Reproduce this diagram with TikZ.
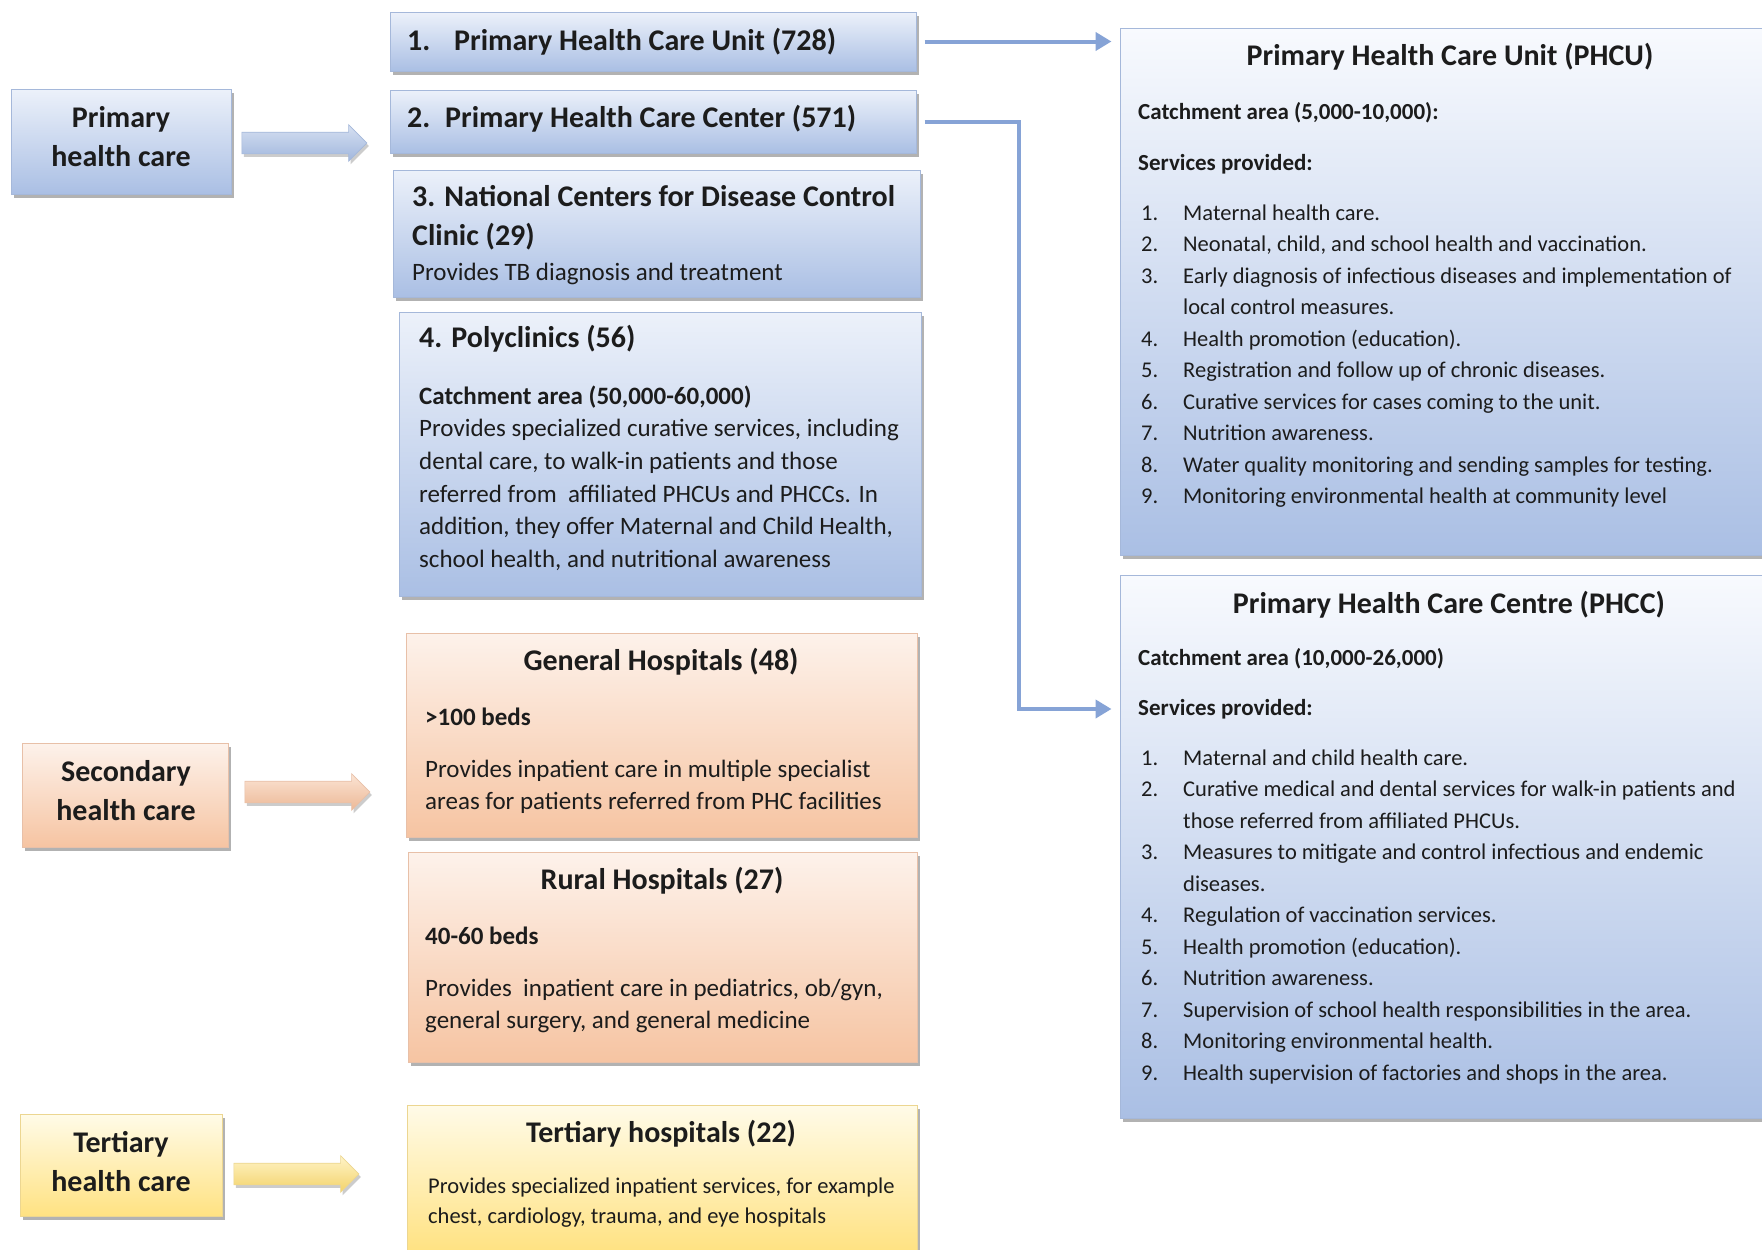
\documentclass[tikz,border=0pt]{standalone}
\usepackage{fontspec}
\setmainfont{Carlito}
\usetikzlibrary{shapes.arrows,shadows,arrows.meta}
\newcommand\myfs[2]{\fontsize{#1}{#2}\selectfont}
\definecolor{bluetop}{RGB}{236,241,250}
\definecolor{bluebot}{RGB}{170,191,228}
\definecolor{blueline}{RGB}{165,184,218}
\definecolor{orangetop}{RGB}{253,242,235}
\definecolor{orangebot}{RGB}{246,196,162}
\definecolor{orangeline}{RGB}{232,192,168}
\definecolor{yellowtop}{RGB}{255,251,232}
\definecolor{yellowbot}{RGB}{255,226,130}
\definecolor{yellowline}{RGB}{236,214,145}
\definecolor{connblue}{RGB}{134,163,214}
\definecolor{txt}{RGB}{28,28,28}
\begin{document}
\begin{tikzpicture}[x=1pt,y=-1pt,
  box/.style={rectangle, inner sep=0pt, line width=1pt,
    drop shadow={shadow xshift=3pt, shadow yshift=-4pt, fill=black, opacity=0.3}},
  bluebox/.style={box, draw=blueline, top color=bluetop, bottom color=bluebot},
  orangebox/.style={box, draw=orangeline, top color=orangetop, bottom color=orangebot},
  yellowbox/.style={box, draw=yellowline, top color=yellowtop, bottom color=yellowbot},
  lefttext/.style={font=\bfseries\myfs{30}{39}, text=txt, align=center, inner sep=0pt},
  head/.style={font=\bfseries\myfs{30}{39}, text=txt, inner sep=0pt, align=left},
  subhead/.style={font=\bfseries\myfs{25}{30}, text=txt, inner sep=0pt},
  body/.style={font=\myfs{25}{32.6}, text=txt, inner sep=0pt, align=left},
  rtitle/.style={font=\bfseries\myfs{30}{34}, text=txt, inner sep=0pt},
  rsub/.style={font=\bfseries\myfs{23}{28}, text=txt, inner sep=0pt},
  item/.style={font=\myfs{22.5}{28}, text=txt, inner sep=0pt},
  blockarrow/.style={single arrow, inner xsep=0pt, inner ysep=10.5pt, minimum height=125pt,
    minimum width=36pt, single arrow head extend=7.5pt, line width=0.6pt,
    drop shadow={shadow xshift=2pt, shadow yshift=-3pt, fill=black, opacity=0.2}},
  conn/.style={draw=connblue, line width=4pt, shorten <=8pt, shorten >=8pt,
    -{Triangle[length=16pt,width=18pt]}}
]
\useasboundingbox (0,0) rectangle (1762,1250);
\fill[white] (0,0) rectangle (1762,1250);

% left level boxes
\node[bluebox, minimum width=220pt, minimum height=105pt] (prim) at (121,141.5) {};
\node[lefttext] (primt) at (121,137) {Primary\\health care};
\node[orangebox, minimum width=206pt, minimum height=104pt] (sec) at (125,795) {};
\node[lefttext] (sect) at (126,791) {Secondary\\health care};
\node[yellowbox, minimum width=202pt, minimum height=102pt] (ter) at (121,1165) {};
\node[lefttext] (tert) at (121,1161.5) {Tertiary\\health care};

% block arrows
\node[blockarrow, draw=blueline, top color={rgb,255:red,214;green,224;blue,241}, bottom color={rgb,255:red,160;green,182;blue,221}] (pa) at (299,143) {};
\node[blockarrow, draw=orangeline, top color={rgb,255:red,251;green,228;blue,212}, bottom color={rgb,255:red,236;green,184;blue,150}] (sa) at (302,792) {};
\node[blockarrow, draw=yellowline, top color={rgb,255:red,255;green,244;blue,200}, bottom color={rgb,255:red,243;green,210;blue,105}] (ta) at (291,1174) {};

% primary boxes
\node[bluebox, minimum width=526pt, minimum height=59pt] (b1) at (653,41.5) {};
\node[head, anchor=west] (b1t) at (407,41.5) {\makebox[47pt][l]{1.}Primary Health Care Unit (728)};

\node[bluebox, minimum width=526pt, minimum height=63pt] (b2) at (653,121.5) {};
\node[head, anchor=west] (b2t) at (407,119) {\makebox[38pt][l]{2.}Primary Health Care Center (571)};

\node[bluebox, minimum width=527pt, minimum height=127pt] (b3) at (656.5,233.5) {};
\node[head, anchor=west] (b3t) at (412,217.5) {3. National Centers for Disease Control\\Clinic (29)};
\node[body, anchor=west] (b3b) at (412,274) {Provides TB diagnosis and treatment};

\node[bluebox, minimum width=522pt, minimum height=284pt] (b4) at (660,454) {};
\node[head, anchor=west] (b4t) at (419,339) {4. Polyclinics (56)};
\node[subhead, anchor=west] (b4c) at (419,397) {Catchment area (50,000-60,000)};
\node[body, anchor=west] (b4b) at (419,495) {Provides specialized curative services, including\\dental care, to walk-in patients and those\\referred from \ affiliated PHCUs and PHCCs. In\\addition, they offer Maternal and Child Health,\\school health, and nutritional awareness};

% secondary boxes
\node[orangebox, minimum width=511pt, minimum height=204pt] (gen) at (661.5,735) {};
\node[head, anchor=center] (gent) at (661,662) {General Hospitals (48)};
\node[subhead, anchor=west] (genc) at (425,717) {>100 beds};
\node[body, anchor=west] (genb) at (425,787) {Provides inpatient care in multiple specialist\\areas for patients referred from PHC facilities};

\node[orangebox, minimum width=509pt, minimum height=210pt] (rur) at (662.5,957) {};
\node[head, anchor=center] (rurt) at (662,881) {Rural Hospitals (27)};
\node[subhead, anchor=west] (rurc) at (425,936) {40-60 beds};
\node[body, anchor=west] (rurb) at (425,1006) {Provides \ inpatient care in pediatrics, ob/gyn,\\general surgery, and general medicine};

% tertiary box
\node[yellowbox, minimum width=510pt, minimum height=147pt] (terh) at (662,1178.5) {};
\node[head, anchor=center] (terht) at (661,1134) {Tertiary hospitals (22)};
\node[body, font=\myfs{22.5}{30}, anchor=west] (terhb) at (428,1203) {Provides specialized inpatient services, for example\\chest, cardiology, trauma, and eye hospitals};

% PHCU
\node[bluebox, minimum width=650pt, minimum height=527pt, top color={rgb,255:red,248;green,250;blue,254}] (phcu) at (1445,291.5) {};
\node[rtitle] (phcut) at (1450,57) {Primary Health Care Unit (PHCU)};
\node[rsub, anchor=west] (phcuc) at (1138,113) {Catchment area (5,000-10,000):};
\node[rsub, anchor=west] (phcus) at (1138,164) {Services provided:};
\foreach \n/\t [count=\k] in {1./Maternal health care.,
  2./{Neonatal, child, and school health and vaccination.},
  3./Early diagnosis of infectious diseases and implementation of,
  {}/local control measures.,
  4./Health promotion (education).,
  5./Registration and follow up of chronic diseases.,
  6./Curative services for cases coming to the unit.,
  7./Nutrition awareness.,
  8./Water quality monitoring and sending samples for testing.,
  9./Monitoring environmental health at community level}{
  \node[item, anchor=base west] (un\k) at (1141,{220+31.5*(\k-1)}) {\n};
  \node[item, anchor=base west] (ut\k) at (1183,{220+31.5*(\k-1)}) {\t};
}

% PHCC
\node[bluebox, minimum width=650pt, minimum height=543pt, top color={rgb,255:red,248;green,250;blue,254}] (phcc) at (1445,846.5) {};
\node[rtitle] (phcct) at (1449,604.5) {Primary Health Care Centre (PHCC)};
\node[rsub, anchor=west] (phccc) at (1138,658.5) {Catchment area (10,000-26,000)};
\node[rsub, anchor=west] (phccs) at (1138,709) {Services provided:};
\foreach \n/\t [count=\k] in {1./Maternal and child health care.,
  2./Curative medical and dental services for walk-in patients and,
  {}/those referred from affiliated PHCUs.,
  3./Measures to mitigate and control infectious and endemic,
  {}/diseases.,
  4./Regulation of vaccination services.,
  5./Health promotion (education).,
  6./Nutrition awareness.,
  7./Supervision of school health responsibilities in the area.,
  8./Monitoring environmental health.,
  9./Health supervision of factories and shops in the area.}{
  \node[item, anchor=base west] (cn\k) at (1141,{765+31.5*(\k-1)}) {\n};
  \node[item, anchor=base west] (ct\k) at (1183,{765+31.5*(\k-1)}) {\t};
}

% connectors
\draw[conn] (b1.east) -- (b1.east -| phcu.west);
\coordinate (bend) at (1019,709);
\draw[conn] (b2.east) -| (bend) -- (bend -| phcc.west);
\end{tikzpicture}
\end{document}
